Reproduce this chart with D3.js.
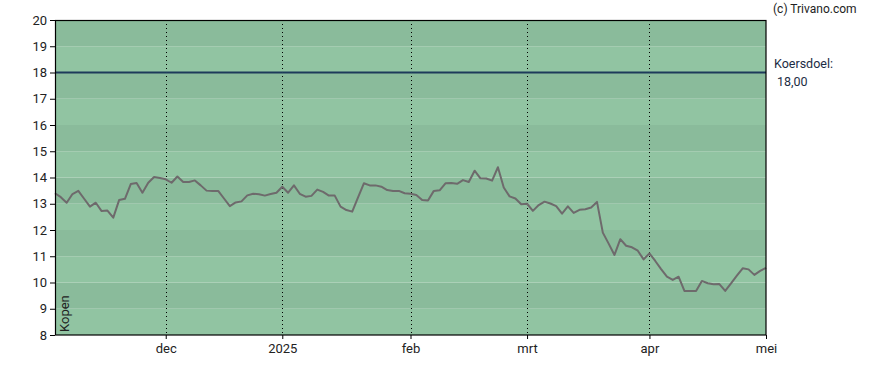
<!DOCTYPE html>
<html><head><meta charset="utf-8">
<script src="https://cdn.jsdelivr.net/npm/d3@7"></script>
<style>
body{margin:0;background:#fff;}
svg{display:block;font-family:Roboto,"Liberation Sans",sans-serif;}
</style></head><body>
<svg id="c" width="888" height="370"></svg>
<script>
// trading-day index series (Nov 2024 - May 2025)
const prices = [13.40,13.25,13.04,13.37,13.49,13.19,12.89,13.04,12.72,12.74,
12.47,13.14,13.19,13.75,13.79,13.42,13.80,14.02,13.98,13.93,
13.80,14.04,13.83,13.83,13.89,13.70,13.50,13.49,13.49,13.20,
12.91,13.05,13.09,13.32,13.38,13.36,13.31,13.37,13.42,13.65,
13.42,13.70,13.38,13.27,13.30,13.54,13.45,13.31,13.31,12.89,
12.76,12.70,13.24,13.78,13.70,13.70,13.65,13.52,13.49,13.49,
13.40,13.38,13.33,13.14,13.12,13.49,13.51,13.78,13.79,13.76,
13.90,13.83,14.26,13.97,13.96,13.88,14.39,13.62,13.28,13.20,
12.98,13.00,12.73,12.95,13.08,13.01,12.91,12.62,12.90,12.65,
12.77,12.79,12.86,13.07,11.90,11.48,11.05,11.65,11.40,11.34,
11.21,10.88,11.11,10.82,10.51,10.22,10.10,10.22,9.68,9.68,
9.68,10.06,9.97,9.93,9.94,9.68,9.97,10.26,10.54,10.50,
10.29,10.44,10.56];
const monthTickIdx = [19,39,61,81,102,122];
const monthTickLabels = ["dec","2025","feb","mrt","apr","mei"];
const yTicks = [8,9,10,11,12,13,14,15,16,17,18,19,20];
const target = 18.00;
const targetLabel = ["Koersdoel:","18,00"];
const adviceLabel = "Kopen";
const copyright = "(c) Trivano.com";

const svg = d3.select("#c");
const L=55, R=766, T=20, B=335;
const x = d3.scaleLinear().domain([0, prices.length-1]).range([L,R]);
const y = d3.scaleLinear().domain([8,20]).range([B,T]);

// bands
const bands = d3.range(8,20);
svg.append("g").selectAll("rect").data(bands).join("rect")
  .attr("x",L).attr("width",R-L)
  .attr("y",d=>y(d+1)).attr("height",d=>y(d)-y(d+1))
  .attr("fill",d=>(d%2===1)?"#8abb9b":"#91c4a2");

// vertical dotted grid
svg.append("g").selectAll("line").data(monthTickIdx.slice(0,-1)).join("line")
  .attr("x1",d=>Math.round(x(d))+0.5).attr("x2",d=>Math.round(x(d))+0.5)
  .attr("y1",T).attr("y2",B)
  .attr("stroke","#000").attr("stroke-width",1).attr("stroke-dasharray","1,3");

// target line
svg.append("line").attr("x1",L).attr("x2",R).attr("y1",y(target)).attr("y2",y(target))
  .attr("stroke","#1d3a5a").attr("stroke-width",2);

// price line
svg.append("path").datum(prices)
  .attr("d",d3.line().x((d,i)=>x(i)).y(d=>y(d)))
  .attr("fill","none").attr("stroke","#6e6a6c").attr("stroke-width",2)
  .attr("stroke-linejoin","round");

// frame
svg.append("rect").attr("x",L+0.5).attr("y",T+0.5).attr("width",R-L-1+0.5).attr("height",B-T-1+0.5)
  .attr("fill","none").attr("stroke","#000").attr("stroke-width",1.2);

// axes
const yAxis = d3.axisLeft(y).tickValues(yTicks).tickSize(5).tickPadding(3).tickFormat(d3.format("d"));
const gy = svg.append("g").attr("transform",`translate(${L},0)`).call(yAxis);
gy.select(".domain").remove();
gy.selectAll("text").attr("font-size",13).attr("fill","#222").attr("font-family","Roboto,sans-serif");

const xAxis = d3.axisBottom(x).tickValues(monthTickIdx).tickSize(4).tickPadding(5)
  .tickFormat((d,i)=>monthTickLabels[i]);
const gx = svg.append("g").attr("transform",`translate(0,${B})`).call(xAxis);
gx.select(".domain").remove();
gx.selectAll("text").attr("font-size",13).attr("fill","#222").attr("font-family","Roboto,sans-serif");

// Kopen
svg.append("text").attr("transform",`translate(69,${B-3}) rotate(-90)`)
  .attr("font-size",13).attr("fill","#222").text(adviceLabel);

// copyright
svg.append("text").attr("x",773).attr("y",13).attr("font-size",12).attr("fill","#222").text(copyright);

// target label
svg.append("text").attr("x",774).attr("y",68).attr("font-size",12.5).attr("fill","#1c2c44").text(targetLabel[0]);
svg.append("text").attr("x",777).attr("y",86).attr("font-size",12.5).attr("fill","#1c2c44").text(targetLabel[1]);
</script></body></html>
